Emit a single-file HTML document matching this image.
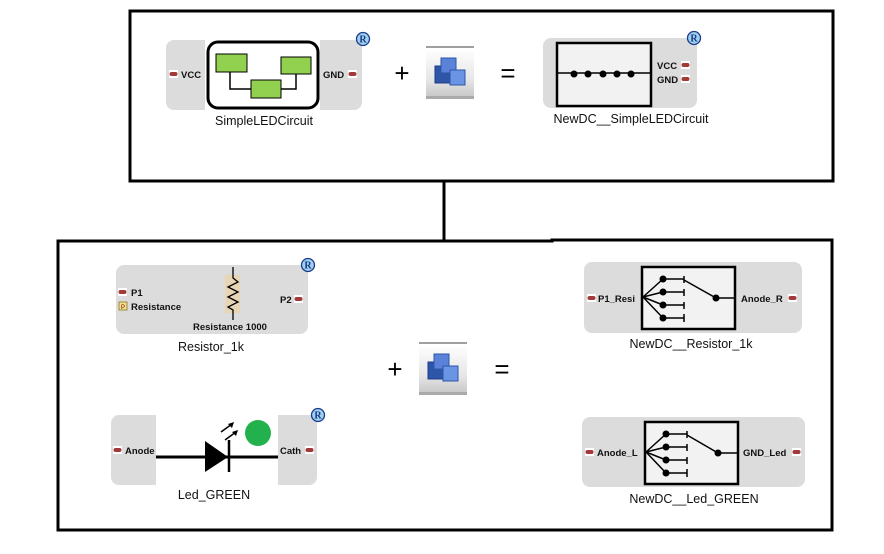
<!DOCTYPE html>
<html><head><meta charset="utf-8"><style>
html,body{margin:0;padding:0;background:#fff;}
svg{display:block;}
text{font-family:"Liberation Sans",sans-serif;}
.b{font-weight:bold;font-size:9.5px;fill:#111;}
.lbl{font-size:12.5px;fill:#111;}
</style></head><body>
<svg width="884" height="554" viewBox="0 0 884 554" xmlns="http://www.w3.org/2000/svg">
<defs>
<linearGradient id="ig" x1="0" y1="0" x2="0" y2="1"><stop offset="0" stop-color="#fdfdfd"/><stop offset="0.6" stop-color="#e6e6e6"/><stop offset="1" stop-color="#c4c4c4"/></linearGradient>
<g id="icon">
<rect x="0" y="0" width="48" height="2" fill="#a0a0a0"/>
<rect x="0" y="5" width="48" height="48" fill="url(#ig)"/>
<rect x="0" y="50" width="48" height="3" fill="#aaa"/>
<rect x="9" y="20" width="18" height="17" fill="#2d55a8" stroke="#1d3d88"/>
<rect x="15" y="12" width="15" height="15" fill="#5a82d8" stroke="#2d55a8"/>
<rect x="24" y="24" width="15" height="15" fill="#6c94e4" stroke="#2d55a8"/>
</g>
<g id="R"><circle r="6.5" fill="#9fd0ef" stroke="#1a3c8a" stroke-width="1.3"/><text x="0" y="3.5" font-size="10" font-weight="bold" text-anchor="middle" fill="#1a3c8a" style="font-family:'Liberation Serif',serif">R</text></g>
<g id="port"><rect x="0" y="-4" width="9" height="8" fill="#fff"/><rect x="0.5" y="-2" width="8" height="4" rx="2" fill="#a33a3a"/></g>
</defs>

<!-- frames -->
<rect x="130" y="11" width="703" height="170" fill="none" stroke="#000" stroke-width="3"/>
<line x1="444" y1="181" x2="444" y2="241" stroke="#000" stroke-width="3"/>
<path d="M58 530 L58 241 L552 241 L552 240 L832 240 L832 530 Z" fill="none" stroke="#000" stroke-width="3"/>

<!-- SimpleLEDCircuit -->
<rect x="166" y="40" width="196" height="70" rx="8" fill="#dcdcdc"/>
<rect x="205" y="40" width="115" height="70" fill="#fff"/>
<rect x="208" y="42" width="110" height="66" rx="10" fill="#fff" stroke="#000" stroke-width="3"/>
<path d="M230 72 V89 H251 M296 74 V89 H281" fill="none" stroke="#000" stroke-width="1.5"/>
<rect x="216" y="54" width="31" height="18" fill="#92d050" stroke="#000"/>
<rect x="281" y="57" width="30" height="17" fill="#92d050" stroke="#000"/>
<rect x="251" y="80" width="30" height="18" fill="#92d050" stroke="#000"/>
<use href="#port" x="169" y="74"/><text class="b" x="181" y="78">VCC</text>
<text class="b" x="323" y="78">GND</text><use href="#port" x="348" y="74"/>
<use href="#R" x="363" y="39"/>
<text class="lbl" x="264" y="125" text-anchor="middle">SimpleLEDCircuit</text>

<text x="402" y="82" font-size="26" text-anchor="middle" fill="#000">+</text>
<use href="#icon" x="426" y="46"/>
<text x="508" y="82" font-size="26" text-anchor="middle" fill="#000">=</text>

<!-- NewDC SimpleLEDCircuit -->
<rect x="543" y="38" width="154" height="70" rx="8" fill="#dcdcdc"/>
<rect x="557" y="43" width="94" height="63" fill="#f2f2f2" stroke="#000" stroke-width="2.5"/>
<line x1="557" y1="73" x2="651" y2="73" stroke="#000" stroke-width="1.5"/>
<g fill="#000"><circle cx="574" cy="74" r="3.5"/><circle cx="588" cy="74" r="3.5"/><circle cx="603" cy="74" r="3.5"/><circle cx="617" cy="74" r="3.5"/><circle cx="631" cy="74" r="3.5"/></g>
<text class="b" x="657" y="69">VCC</text><use href="#port" x="681" y="65"/>
<text class="b" x="657" y="83">GND</text><use href="#port" x="681" y="79"/>
<use href="#R" x="694" y="38"/>
<text class="lbl" x="631" y="123" text-anchor="middle">NewDC__SimpleLEDCircuit</text>

<!-- Resistor -->
<rect x="116" y="265" width="192" height="69" rx="8" fill="#dcdcdc"/>
<rect x="225" y="275" width="15" height="38" fill="#e8d5b5"/>
<path d="M233 267 V278 L238 282 L228 287 L238 292 L228 297 L238 302 L228 307 L233 310 V320" fill="none" stroke="#000" stroke-width="1.3"/>
<use href="#port" x="118" y="292"/><text class="b" x="131" y="296">P1</text>
<rect x="119" y="302" width="8" height="8" fill="#f0e08a" stroke="#8a7a2a" stroke-width="0.8"/><text x="123" y="309" font-size="6" text-anchor="middle" fill="#800">P</text>
<text class="b" x="131" y="310">Resistance</text>
<text class="b" x="280" y="303">P2</text><use href="#port" x="294" y="299"/>
<text class="b" x="193" y="330">Resistance 1000</text>
<use href="#R" x="308" y="265"/>
<text class="lbl" x="211" y="351" text-anchor="middle">Resistor_1k</text>

<!-- LED -->
<rect x="111" y="415" width="206" height="70" rx="8" fill="#dcdcdc"/>
<rect x="156" y="415" width="122" height="70" fill="#fff"/>
<line x1="156" y1="457" x2="278" y2="457" stroke="#000" stroke-width="3"/>
<polygon points="205,441 205,472 228,457" fill="#000"/>
<line x1="229" y1="440" x2="229" y2="472" stroke="#000" stroke-width="2.5"/>
<path d="M221 432 L232 424 M225 440 L236 432" stroke="#000" stroke-width="1.5"/>
<polygon points="234,422 228,424 232,428" fill="#000"/><polygon points="238,430 232,432 236,436" fill="#000"/>
<circle cx="258" cy="433" r="13" fill="#22b14c"/>
<use href="#port" x="113" y="450"/><text class="b" x="125" y="454">Anode</text>
<text class="b" x="280" y="454">Cath</text><use href="#port" x="305" y="450"/>
<use href="#R" x="318" y="415"/>
<text class="lbl" x="214" y="499" text-anchor="middle">Led_GREEN</text>

<text x="395" y="378" font-size="26" text-anchor="middle" fill="#000">+</text>
<use href="#icon" x="419" y="342"/>
<text x="502" y="378" font-size="26" text-anchor="middle" fill="#000">=</text>

<!-- NewDC Resistor -->
<rect x="584" y="262" width="218" height="71" rx="8" fill="#dcdcdc"/>
<rect x="642" y="267" width="93" height="62" fill="#f2f2f2" stroke="#000" stroke-width="2.5"/>
<g stroke="#000" stroke-width="1.5" fill="none">
<path d="M643 297 L663 279 M643 297 L663 292 M643 297 L663 305 M643 297 L663 318"/>
<path d="M663 279 H684 M663 292 H684 M663 305 H684 M663 318 H684"/>
<path d="M684 276 V283 M684 289 V296 M684 302 V309 M684 314 V322"/>
<path d="M684 280 L716 298 H735"/>
</g>
<g fill="#000"><circle cx="663" cy="279" r="3.5"/><circle cx="663" cy="292" r="3.5"/><circle cx="663" cy="305" r="3.5"/><circle cx="663" cy="318" r="3.5"/><circle cx="716" cy="298" r="3.5"/></g>
<use href="#port" x="587" y="298"/><text class="b" x="598" y="302">P1_Resi</text>
<text class="b" x="741" y="302">Anode_R</text><use href="#port" x="788" y="298"/>
<text class="lbl" x="691" y="348" text-anchor="middle">NewDC__Resistor_1k</text>

<!-- NewDC LED -->
<rect x="582" y="417" width="223" height="70" rx="8" fill="#dcdcdc"/>
<rect x="645" y="422" width="93" height="62" fill="#f2f2f2" stroke="#000" stroke-width="2.5"/>
<g stroke="#000" stroke-width="1.5" fill="none">
<path d="M646 452 L666 434 M646 452 L666 447 M646 452 L666 460 M646 452 L666 473"/>
<path d="M666 434 H687 M666 447 H687 M666 460 H687 M666 473 H687"/>
<path d="M687 431 V438 M687 444 V451 M687 457 V464 M687 469 V477"/>
<path d="M687 435 L718 453 H738"/>
</g>
<g fill="#000"><circle cx="666" cy="434" r="3.5"/><circle cx="666" cy="447" r="3.5"/><circle cx="666" cy="460" r="3.5"/><circle cx="666" cy="473" r="3.5"/><circle cx="718" cy="453" r="3.5"/></g>
<use href="#port" x="585" y="452"/><text class="b" x="597" y="456">Anode_L</text>
<text class="b" x="743" y="456">GND_Led</text><use href="#port" x="792" y="452"/>
<text class="lbl" x="694" y="503" text-anchor="middle">NewDC__Led_GREEN</text>
</svg>
</body></html>
